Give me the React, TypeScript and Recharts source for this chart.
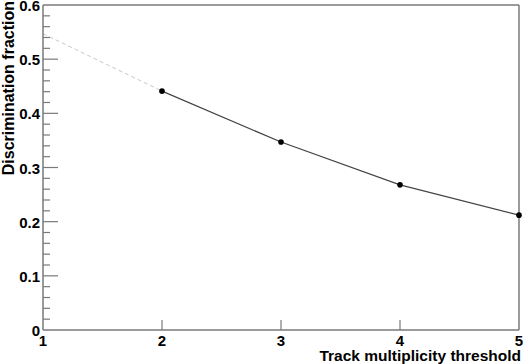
import React from 'react';
import { LineChart, Line, XAxis, YAxis, ReferenceLine } from 'recharts';

// threshold points (solid) and the extrapolated segment back to 1 (dashed)
const thresholds = [1, 2, 3, 4, 5];
const measured = [null, 0.441, 0.347, 0.268, 0.212];
const extrapolated = [0.547, 0.441, null, null, null];

const xTicks = [1, 2, 3, 4, 5];
const yTicks = Array.from({ length: 31 }, (_, i) => +(i * 0.02).toFixed(2));

const data = thresholds.map((t, i) => ({
  x: t,
  measured: measured[i],
  extrapolated: extrapolated[i],
}));

const FONT = '"Liberation Sans", Arial, Helvetica, sans-serif';
const AXIS = '#7a7a7a';

const YTick = (props: any) => {
  const { x, y, payload } = props;
  const v = payload.value as number;
  const major = Math.abs(v * 10 - Math.round(v * 10)) < 1e-6;
  const label = v === 0 ? '0' : v.toFixed(1);
  return (
    <g>
      {v > 0 && v < 0.6 && (
        <line x1={x} y1={y} x2={x + (major ? 15 : 7)} y2={y} stroke={AXIS} strokeWidth={1.2} />
      )}
      {major && (
        <text x={x - 3} y={y + 6} textAnchor="end" fontFamily={FONT} fontWeight="bold" fontSize={15} fill="#000">
          {label}
        </text>
      )}
    </g>
  );
};

const XTick = (props: any) => {
  const { x, y, payload } = props;
  const v = payload.value as number;
  return (
    <g>
      {v > 1 && v < 5 && <line x1={x} y1={y} x2={x} y2={y - 10} stroke={AXIS} strokeWidth={1.2} />}
      <text x={x} y={y + 16} textAnchor="middle" fontFamily={FONT} fontWeight="bold" fontSize={15} fill="#000">
        {v}
      </text>
    </g>
  );
};

export default function App() {
  return (
    <div style={{ position: 'relative', width: 525, height: 364, background: '#fff' }}>
      <style>{`body{margin:0;}`}</style>
      <LineChart width={525} height={364} data={data} margin={{ top: 5, right: 6, left: 0, bottom: 0 }}>
        <XAxis
          dataKey="x"
          type="number"
          domain={[1, 5]}
          ticks={xTicks}
          interval={0}
          height={34}
          tickSize={0}
          tickMargin={0}
          tickLine={false}
          axisLine={{ stroke: AXIS, strokeWidth: 1.5 }}
          tick={<XTick />}
        />
        <YAxis
          type="number"
          domain={[0, 0.6]}
          ticks={yTicks}
          interval={0}
          width={43}
          tickSize={0}
          tickMargin={0}
          tickLine={false}
          axisLine={{ stroke: AXIS, strokeWidth: 1.5 }}
          tick={<YTick />}
        />
        <ReferenceLine y={0.6} stroke={AXIS} strokeWidth={1.5} />
        <ReferenceLine x={5} stroke={AXIS} strokeWidth={1.5} />
        <Line
          dataKey="extrapolated"
          stroke="#c8c8c8"
          strokeWidth={1}
          strokeDasharray="4 3"
          dot={false}
          connectNulls={false}
          isAnimationActive={false}
        />
        <Line
          dataKey="measured"
          stroke="#444"
          strokeWidth={1.2}
          dot={{ r: 2.8, fill: '#000', stroke: '#000', strokeWidth: 0 }}
          connectNulls={false}
          isAnimationActive={false}
        />
      </LineChart>
      <svg width={525} height={364} style={{ position: 'absolute', left: 0, top: 0, pointerEvents: 'none' }}>
        <text
          transform="translate(14, 1) rotate(-90)"
          textAnchor="end"
          fontFamily={FONT}
          fontWeight="bold"
          fontSize={16}
          fill="#000"
        >
          Discrimination fraction
        </text>
        <text x={521} y={361} textAnchor="end" fontFamily={FONT} fontWeight="bold" fontSize={15.5} fill="#000">
          Track multiplicity threshold
        </text>
      </svg>
    </div>
  );
}
